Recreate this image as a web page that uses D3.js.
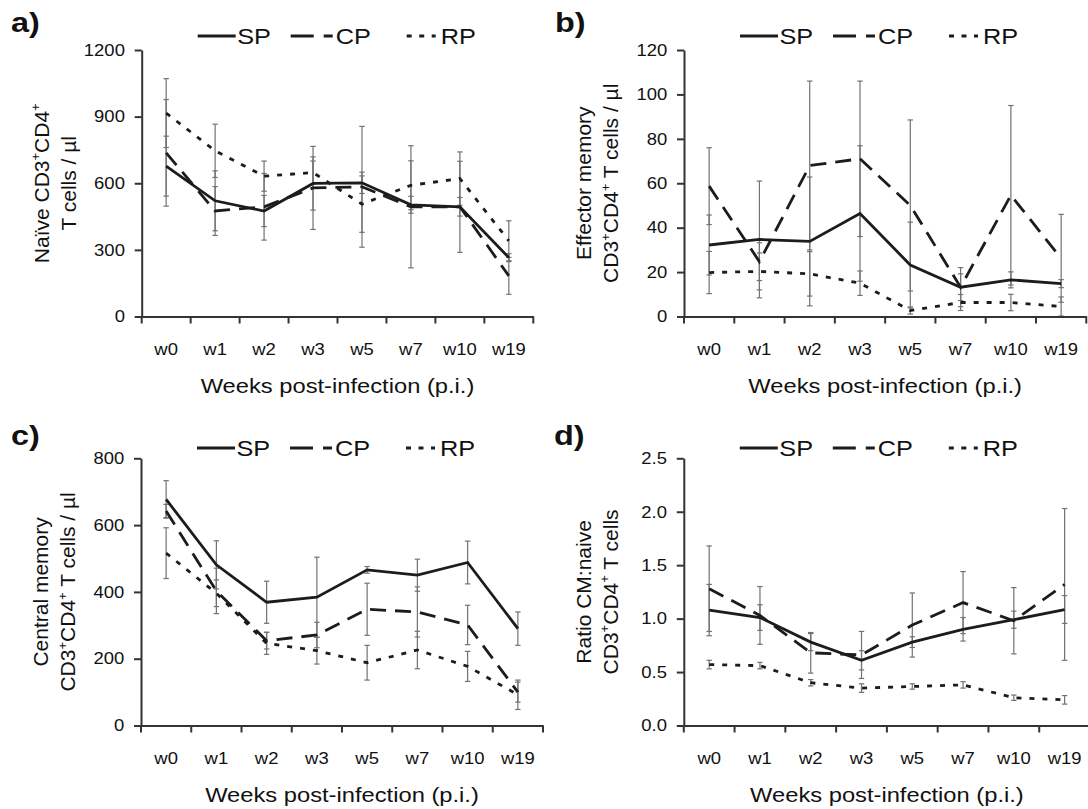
<!DOCTYPE html>
<html>
<head>
<meta charset="utf-8">
<title>CD4 T cell subsets</title>
<script src="https://cdn.jsdelivr.net/npm/d3@7"></script>
<style>
    body { margin: 0; background: #fff; }
    svg { font-family: "Liberation Sans", Arial, sans-serif; }
    .domain { stroke: #333; stroke-width: 2; }
    .tick line { stroke: #333; stroke-width: 2; }
    .tick text { fill: #111; }
</style>
</head>
<body>
<script>
    var weeks = ["w0", "w1", "w2", "w3", "w5", "w7", "w10", "w19"];
    var seriesNames = ["SP", "CP", "RP"];

    // a) naive
    var naiveSP = [677, 521, 475, 599, 602, 503, 494, 265];
    var naiveCP = [737, 475, 494, 579, 584, 494, 494, 183];
    var naiveRP = [916, 746, 632, 648, 506, 591, 621, 341];
    var naiveErrSP = [135, 135, 70, 120, 48, 38, 205, 18];
    var naiveErrCP = [240, 110, 150, 187, 272, 275, 42, 83];
    var naiveErrRP = [155, 120, 68, 52, 127, 110, 120, 90];
    var naiveTicks = [0, 300, 600, 900, 1200];

    // b) effector memory
    var emSP = [32.2, 34.7, 33.8, 46.4, 23.2, 13.2, 16.5, 14.8];
    var emCP = [58.7, 24.7, 68, 71, 50, 13.2, 54.6, 26.2];
    var emRP = [19.8, 20.3, 19.2, 15, 2.7, 6.3, 6.3, 4.5];
    var emErrSP = [13.5, 26.3, 29, 30.5, 19.3, 6, 3.6, 1.8];
    var emErrCP = [17.3, 8.5, 38, 35, 38.5, 8.8, 40.4, 19.8];
    var emErrRP = [9.5, 8.3, 10, 5.5, 1.6, 3.6, 3.7, 4.3];
    var emTicks = [0, 20, 40, 60, 80, 100, 120];

    // c) central memory
    var cmSP = [677, 481, 369, 384, 466, 450, 488, 290];
    var cmCP = [642, 403, 254, 271, 348, 340, 301, 100];
    var cmRP = [516, 396, 246, 224, 188, 226, 177, 92];
    var cmErrSP = [56, 72, 63, 120, 10, 48, 64, 50];
    var cmErrCP = [20, 68, 25, 38, 78, 75, 59, 30];
    var cmErrRP = [76, 40, 33, 40, 52, 56, 45, 44];
    var cmTicks = [0, 200, 400, 600, 800];

    // d) ratio CM:naive
    var ratioSP = [1.08, 1.01, 0.78, 0.61, 0.78, 0.90, 0.99, 1.085];
    var ratioCP = [1.28, 1.03, 0.68, 0.66, 0.94, 1.15, 0.98, 1.32];
    var ratioRP = [0.57, 0.56, 0.40, 0.35, 0.365, 0.38, 0.26, 0.24];
    var ratioErrSP = [0.24, 0.12, 0.08, 0.09, 0.05, 0.11, 0.08, 0.13];
    var ratioErrCP = [0.40, 0.27, 0.19, 0.22, 0.30, 0.29, 0.31, 0.71];
    var ratioErrRP = [0.04, 0.03, 0.03, 0.04, 0.025, 0.03, 0.025, 0.04];
    var ratioTicks = [0, 0.5, 1.0, 1.5, 2.0, 2.5];

    var xTitle = "Weeks post-infection (p.i.)";

    var panels = [
        {label: "a)", SP: naiveSP, CP: naiveCP, RP: naiveRP, eSP: naiveErrSP, eCP: naiveErrCP, eRP: naiveErrRP,
            ticks: naiveTicks, fmt: d3.format("d"), title: ["Naïve CD3^+CD4^+", "T cells / µl"],
            x0: 141.7, x1: 533.3, yTop: 50, y0: 316.5, lx: 11, ly: 32, legY: 36},
        {label: "b)", SP: emSP, CP: emCP, RP: emRP, eSP: emErrSP, eCP: emErrCP, eRP: emErrRP,
            ticks: emTicks, fmt: d3.format("d"), title: ["Effector memory", "CD3^+CD4^+ T cells / µl"],
            x0: 684, x1: 1086.3, yTop: 50, y0: 316.5, lx: 555, ly: 32, legY: 36},
        {label: "c)", SP: cmSP, CP: cmCP, RP: cmRP, eSP: cmErrSP, eCP: cmErrCP, eRP: cmErrRP,
            ticks: cmTicks, fmt: d3.format("d"), title: ["Central memory", "CD3^+CD4^+ T cells / µl"],
            x0: 141, x1: 543, yTop: 458.3, y0: 725.5, lx: 11, ly: 445, legY: 448},
        {label: "d)", SP: ratioSP, CP: ratioCP, RP: ratioRP, eSP: ratioErrSP, eCP: ratioErrCP, eRP: ratioErrRP,
            ticks: ratioTicks, fmt: d3.format(".1f"), title: ["Ratio CM:naive", "CD3^+CD4^+ T cells"],
            x0: 683.8, x1: 1090, yTop: 458.3, y0: 725.5, lx: 554, ly: 445, legY: 448}
    ];

    var dash = {SP: null, CP: "16,9", RP: "5,8"};
    var legendDash = {SP: null, CP: "23,10", RP: "5,7.5"};
    var legendPos = {SP: [56, 94, 95.5], CP: [149, 191, 194], RP: [265, 294, 299]};
    var lineColor = "#1c1c1c";

    var svg = d3.select("body").append("svg").attr("width", 1088).attr("height", 809);

    // "^+" in a string becomes a raised plus sign
    function richText(sel, str, size) {
        str.split("^+").forEach(function (part, i) {
            if (i > 0) {
                sel.append("tspan").attr("dy", -size * 0.4).style("font-size", (size * 0.62) + "px").text("+");
                sel.append("tspan").attr("dy", size * 0.4).text(part);
            } else {
                sel.append("tspan").text(part);
            }
        });
    }

    panels.forEach(function (p) {
        var g = svg.append("g");
        var x = d3.scaleBand().domain(weeks).range([p.x0, p.x1]);
        var y = d3.scaleLinear().domain([0, p.ticks[p.ticks.length - 1]]).range([p.y0, p.yTop]);
        var cx = function (i) { return x(weeks[i]) + x.bandwidth() / 2; };

        // error bars first, lines on top
        seriesNames.forEach(function (s) {
            var vals = p[s], errs = p["e" + s];
            var eg = g.append("g").attr("stroke", "#727272").attr("stroke-width", 1.2);
            vals.forEach(function (v, i) {
                var lo = Math.max(0, v - errs[i]), hi = v + errs[i];
                eg.append("line").attr("x1", cx(i)).attr("x2", cx(i)).attr("y1", y(lo)).attr("y2", y(hi));
                [lo, hi].forEach(function (e) {
                    eg.append("line").attr("x1", cx(i) - 2.7).attr("x2", cx(i) + 2.7).attr("y1", y(e)).attr("y2", y(e));
                });
            });
        });

        var line = d3.line().x(function (d, i) { return cx(i); }).y(function (d) { return y(d); });
        seriesNames.forEach(function (s) {
            g.append("path").datum(p[s])
                .attr("d", line)
                .attr("fill", "none")
                .attr("stroke", lineColor)
                .attr("stroke-width", 2.8)
                .attr("stroke-dasharray", dash[s]);
        });

        // y axis
        var ya = g.append("g").attr("transform", "translate(" + p.x0 + ",0)")
            .call(d3.axisLeft(y).tickValues(p.ticks).tickFormat(p.fmt).tickSize(7).tickSizeOuter(0).tickPadding(8));
        ya.selectAll("text").style("font-size", "16.5px").attr("transform", "scale(1.12,1)");

        // x axis: labels centred in bands, ticks on band edges
        var xa = g.append("g").attr("transform", "translate(0," + p.y0 + ")")
            .call(d3.axisBottom(x).tickSize(0).tickPadding(27));
        xa.selectAll(".tick text").style("font-size", "16.5px").attr("transform", "scale(1.12,1)");
        var edges = weeks.map(function (w) { return x(w); }).concat([p.x1]);
        xa.selectAll(".edge").data(edges).enter().append("line")
            .attr("class", "edge")
            .attr("x1", function (d) { return d; }).attr("x2", function (d) { return d; })
            .attr("y1", 0).attr("y2", 7)
            .attr("stroke", "#333").attr("stroke-width", 2);

        // x title
        g.append("text")
            .attr("transform", "translate(" + ((p.x0 + p.x1) / 2) + "," + (p.y0 + 76) + ") scale(1.13,1)")
            .attr("text-anchor", "middle")
            .style("font-size", "21px").attr("fill", "#111")
            .text(xTitle);

        // y title, two lines
        var midY = (p.yTop + p.y0) / 2;
        p.title.forEach(function (t, i) {
            var tx = g.append("text")
                .attr("transform", "translate(" + (p.x0 - (i === 0 ? 93 : 66)) + "," + midY + ") rotate(-90)")
                .attr("text-anchor", "middle")
                .style("font-size", "21px").attr("fill", "#111");
            richText(tx, t, 21);
        });

        // panel label
        g.append("text")
            .attr("transform", "translate(" + p.lx + "," + p.ly + ") scale(1.2,1)")
            .style("font-size", "27px").style("font-weight", "bold").attr("fill", "#111")
            .text(p.label);

        // legend
        var lg = g.append("g").attr("transform", "translate(" + p.x0 + "," + p.legY + ")");
        seriesNames.forEach(function (s) {
            var pos = legendPos[s];
            lg.append("line").attr("x1", pos[0]).attr("x2", pos[1]).attr("y1", 0).attr("y2", 0)
                .attr("stroke", lineColor).attr("stroke-width", 2.8)
                .attr("stroke-dasharray", legendDash[s]);
            lg.append("text")
                .attr("transform", "translate(" + pos[2] + ",8) scale(1.15,1)")
                .style("font-size", "22px").attr("fill", "#111")
                .text(s);
        });
    });
</script>
</body>
</html>
